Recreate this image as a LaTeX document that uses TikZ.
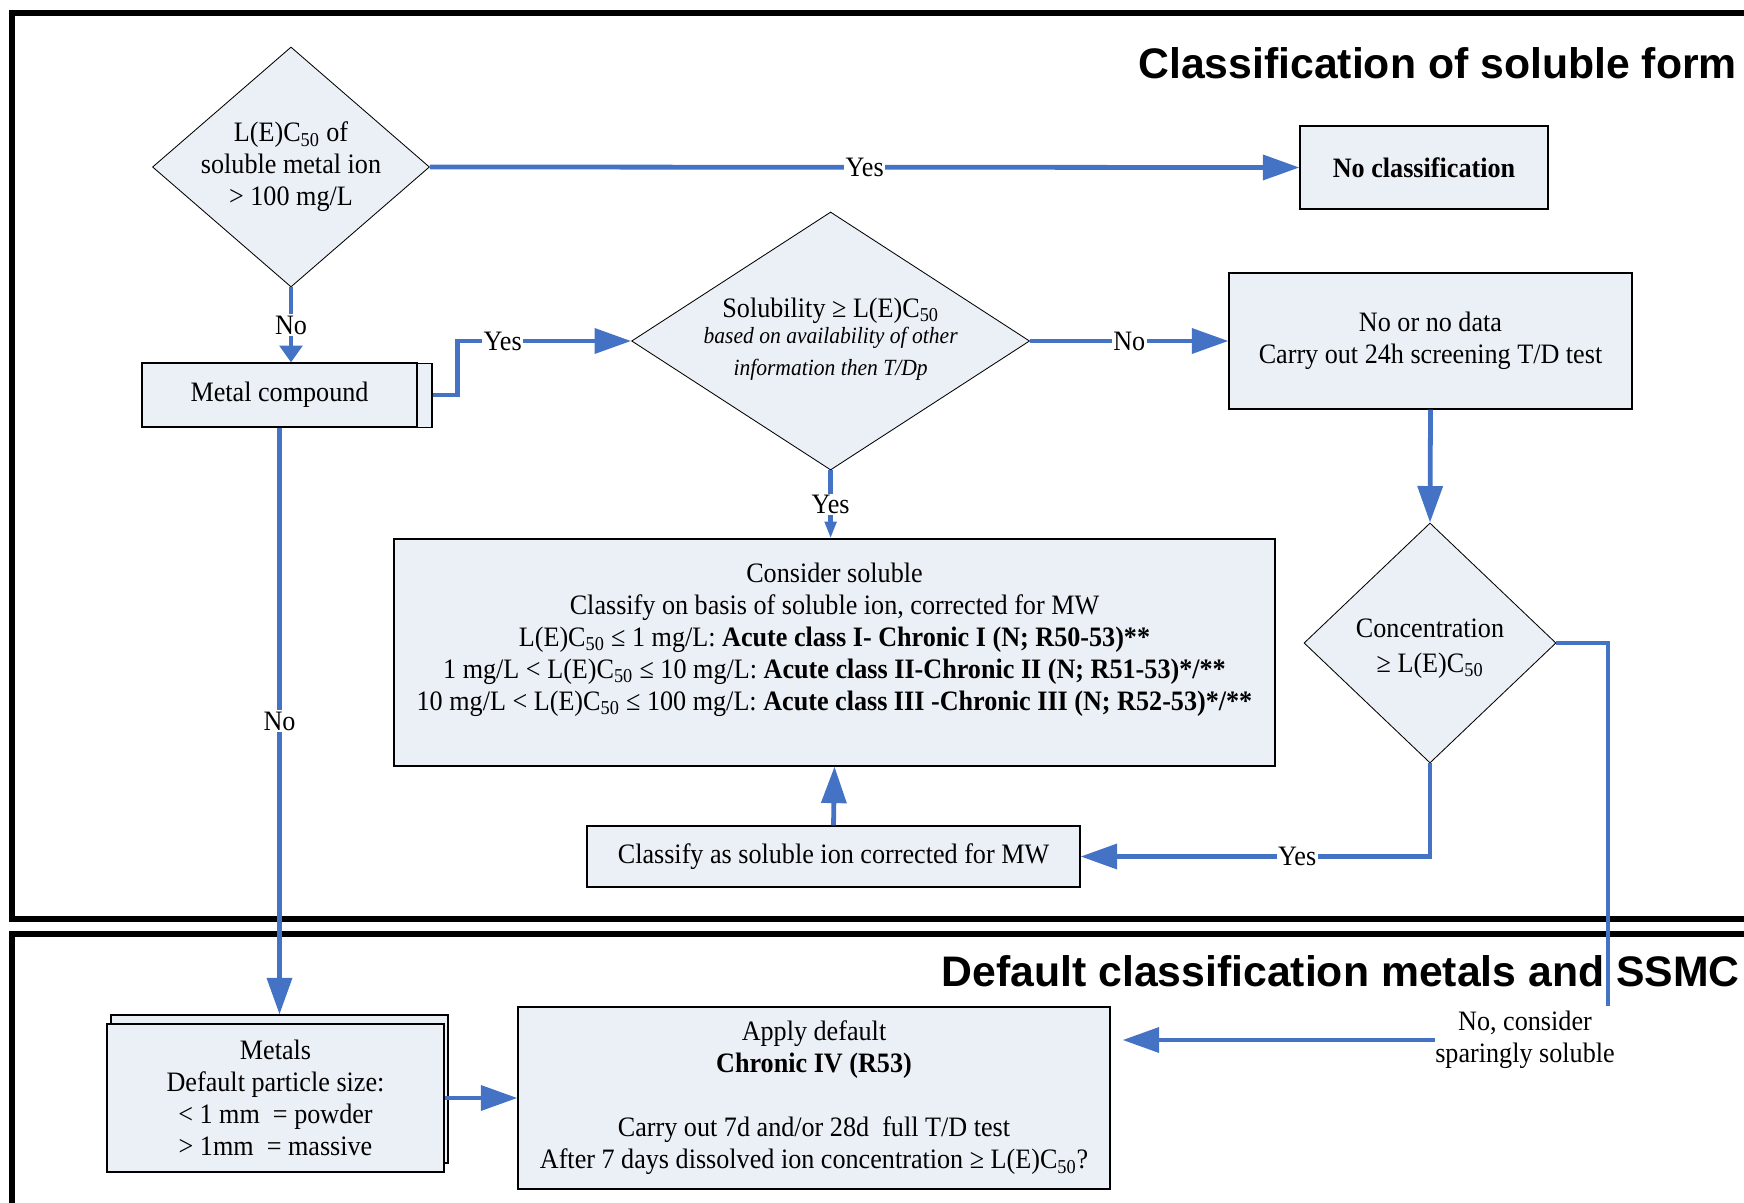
\documentclass[tikz,border=0pt]{standalone}
\usepackage{fontspec}
\setmainfont{Liberation Serif}[FakeStretch=0.93]
\newfontfamily\headfont{Liberation Sans}
\usepackage{xcolor}
\usepackage{tikz}
\usetikzlibrary{positioning, shapes.geometric, calc, arrows.meta, shadows}

\definecolor{flowblue}{RGB}{68,114,196}
\definecolor{boxfill}{RGB}{235,240,247}
\newcommand{\lecf}{L(E)C\textsubscript{50}}
\newcommand{\itsz}{\itshape\fontsize{16.5}{21}\selectfont}

\tikzset{
  box/.style={draw, fill=boxfill, rectangle, line width=0.8pt, align=center, inner sep=0pt},
  decision/.style={draw, fill=boxfill, diamond, line width=0.6pt, inner sep=0pt},
  flow/.style={draw=flowblue, line width=3.4pt},
  bighead/.style={-{Triangle[length=26pt, width=17.5pt]}},
  smallhead/.style={-{Triangle[length=12pt, width=16pt]}},
  thinhead/.style={-{Triangle[length=12pt, width=8pt]}},
  answer/.style={fill=white, inner sep=1pt},
  frame/.style={line width=3.6pt},
  heading/.style={font=\headfont\bfseries\fontsize{30.4}{36}\selectfont, anchor=base east, inner sep=0pt}
}

\begin{document}
\begin{tikzpicture}[x=0.25mm, y=-0.25mm, font=\fontsize{20}{22.8}\selectfont]
  \useasboundingbox (0,0) rectangle (1744,1203);

  % panels
  \draw[frame] (1760,13) -- (12,13) -- (12,919) -- (1760,919);
  \draw[frame] (1760,934) -- (12,934) -- (12,1220);
  \node[heading] (soltitle) at (1737,79) {Classification of soluble form};
  \node[heading] (deftitle) at (1740,986) {Default classification metals and SSMC};

  % decisions
  \node[decision, minimum width=69.25mm, minimum height=60mm,
    label={[align=center]center:{\lecf{} of\\soluble metal ion\\> 100 mg/L}}] (ionsol) at (291,167) {};
  \node[decision, minimum width=99.5mm, minimum height=64.5mm,
    label={[align=center, yshift=0.5mm]center:{Solubility ≥ \lecf\\[-4pt]\itsz based on availability of other\\\itsz information then T/Dp}}] (solub) at (830.6,341) {};
  \node[decision, minimum width=63mm, minimum height=60mm,
    label={[align=center, yshift=-1.4mm]center:{Concentration\\[2pt]≥ \lecf}}] (conc) at (1430,643) {};

  % boxes
  \node[box, minimum width=62mm, minimum height=20.75mm] (noclass) at (1424,167.5) {\textbf{No classification}};
  \node[box, minimum width=100.75mm, minimum height=34mm] (nodata) at (1430.5,341) {\raisebox{-1mm}{No or no data}\\\raisebox{-1mm}{Carry out 24h screening T/D test}};
  \node[box, minimum width=68.75mm, minimum height=16mm,
    copy shadow={shadow xshift=3.75mm, shadow yshift=-0.2mm}] (compound) at (279.5,395) {Metal compound};
  \node[box, minimum width=220.25mm, minimum height=56.75mm] (soluble) at (834.5,652.5) {Consider soluble\\Classify on basis of soluble ion, corrected for MW\\\lecf{} ≤ 1 mg/L: \textbf{Acute class I- Chronic I (N; R50-53)**}\\1 mg/L < \lecf{} ≤ 10 mg/L: \textbf{Acute class II-Chronic II (N; R51-53)*/**}\\10 mg/L < \lecf{} ≤ 100 mg/L: \textbf{Acute class III -Chronic III (N; R52-53)*/**}\\\mbox{}};
  \node[box, minimum width=123.25mm, minimum height=15.25mm] (ionclass) at (833.5,856.5) {Classify as soluble ion corrected for MW};
  \node[box, minimum width=84.25mm, minimum height=37mm,
    copy shadow={shadow xshift=1mm, shadow yshift=2.25mm}] (metals) at (275.5,1098) {Metals\\Default particle size:\\< 1 mm\ \ = powder\\> 1mm\ \ = massive};
  \node[box, minimum width=148mm, minimum height=45.5mm] (default) at (814,1098) {Apply default\\\textbf{Chronic IV (R53)}\\\mbox{}\\Carry out 7d and/or 28d\ \ full T/D test\\After 7 days dissolved ion concentration ≥ \lecf?};
  \node[align=center, inner sep=0pt] (sparse) at (1525,1040) {No, consider\\sparingly soluble};
  \coordinate (drop) at (1608,1006);

  % connectors
  \draw[flow, bighead] (ionsol.east) -- node[answer] {Yes} (noclass.west);
  \draw[flow, smallhead] (ionsol.south) -- node[answer] {No} (ionsol.south |- compound.north);
  \draw[flow, bighead] ([xshift=3.75mm]compound.east) -- ++(25,0) |- node[answer, pos=0.63] {Yes} (solub.west);
  \draw[flow, bighead] (solub.east) -- node[answer] {No} (nodata.west);
  \draw[flow, thinhead] (solub.south) -- node[answer] {Yes} (solub.south |- soluble.north);
  \draw[flow, bighead] (nodata.south) -- (conc.north);
  \draw[flow, bighead] (conc.south) |- node[answer, pos=0.69] {Yes} (ionclass.east);
  \draw[flow, bighead] (ionclass.north) -- (soluble.south);
  \draw[flow] (conc.east) -| (drop);
  \draw[flow, bighead, shorten >=3mm] (sparse.west) -- (sparse.west -| default.east);
  \draw[flow, bighead] (metals.east) -- (default.west);
  \draw[flow, bighead] (compound.south) -- node[answer] {No} ([yshift=2.25mm]compound.south |- metals.north);
\end{tikzpicture}
\end{document}
